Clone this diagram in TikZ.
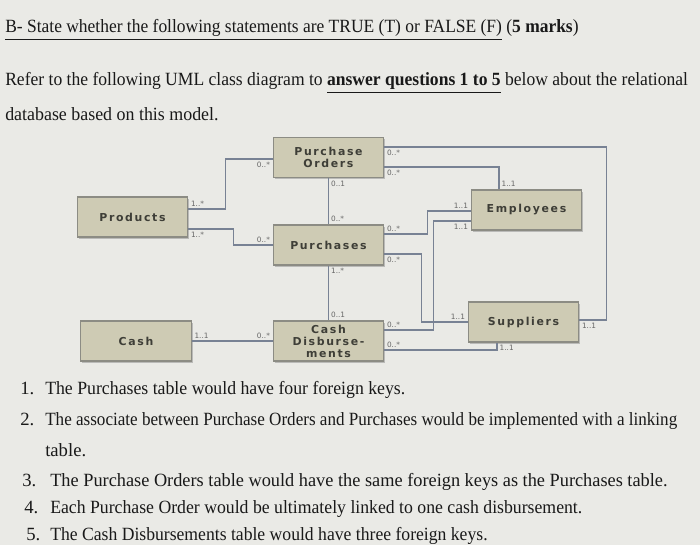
\documentclass[tikz,border=0pt]{standalone}
\usepackage{graphicx}
\usepackage{fontspec}
\setmainfont{Liberation Serif}
\newfontfamily\boxfont[LetterSpace=15]{DejaVu Sans}
\newfontfamily\multfont{DejaVu Sans}
\usetikzlibrary{calc, shadows}
\definecolor{paper}{RGB}{234,234,230}
\definecolor{boxfill}{RGB}{206,203,180}
\definecolor{boxline}{RGB}{140,140,132}
\definecolor{linkcol}{RGB}{120,130,148}
\definecolor{ink}{RGB}{25,25,25}
\definecolor{boxtext}{RGB}{62,62,55}
\newcommand{\fitline}[2]{\resizebox{#1}{\height}{#2}}

\begin{document}
\begin{tikzpicture}[
    x=0.75pt, y=-0.75pt,
    entity/.style={draw=boxline, fill=boxfill, line width=0.8pt, minimum width=83pt, minimum height=30pt, inner sep=1pt, align=center, font=\boxfont\bfseries\fontsize{8.2}{9}\selectfont, text=boxtext, drop shadow={shadow xshift=1.2pt, shadow yshift=-1.2pt, fill=black!45, opacity=0.5}},
    link/.style={draw=linkcol, line width=1pt},
    mult/.style={font=\multfont\fontsize{5.5}{6}\selectfont, text=black!60, inner sep=1.5pt},
    txt/.style={anchor=base west, inner sep=0pt, text=ink, font=\fontsize{14}{16}\selectfont}
]
\fill[paper] (0,0) rectangle (700,545);
\useasboundingbox (0,0) rectangle (700,545);

% Enunciado
\node[txt] (title) at (5,33) {\fitline{430pt}{\underline{B- State whether the following statements are TRUE (T) or FALSE (F)}\ (\textbf{5 marks})}};
\node[txt] (intro) at (5,86) {\fitline{512pt}{Refer to the following UML class diagram to \textbf{\underline{answer questions 1 to 5}} below about the relational}};
\node[txt] (intro2) at (5,121) {\fitline{160pt}{database based on this model.}};

% Tabelas
\node[entity] (po) at (328.5,157.5) {Purchase\\Orders};
\node[entity] (purch) at (328.5,245) {Purchases};
\node[entity] (cd) at (328.5,341) {Cash\\Disburse-\\ments};
\node[entity] (prod) at (132.5,217) {Products};
\node[entity] (cash) at (136,341) {Cash};
\node[entity] (emp) at (526.5,210) {Employees};
\node[entity] (sup) at (523.5,322) {Suppliers};

% Ligacoes
\draw[link] ($(prod.east)+(0,-8)$) node[mult, above right] {1..*} -- ++(37,0) |- ($(po.west)+(0,1.5)$) node[mult, below left] {0..*};
\draw[link] ($(prod.east)+(0,12)$) node[mult, below right] {1..*} -- ++(45,0) |- (purch.west) node[mult, above left] {0..*};
\draw[link] (po.south) node[mult, below right] {0..1} -- (purch.north) node[mult, above right] {0..*};
\draw[link] (purch.south) node[mult, below right] {1..*} -- (cd.north) node[mult, above right] {0..1};
\draw[link] (cash.east) node[mult, above right] {1..1} -- (cd.west) node[mult, above left] {0..*};
\draw[link] ($(po.east)+(0,-10.5)$) node[mult, below right] {0..*} -- ++(222,0) |- ($(sup.east)+(0,-2)$) node[mult, below right] {1..1};
\draw[link] ($(po.east)+(0,9.5)$) node[mult, below right] {0..*} -| ($(emp.north)+(-27.5,0)$) node[mult, above right] {1..1};
\draw[link] ($(purch.east)+(0,-11)$) node[mult, above right] {0..*} -- ++(43,0) |- ($(emp.west)+(0,1)$) node[mult, above left] {1..1};
\draw[link] ($(purch.east)+(0,9)$) node[mult, below right] {0..*} -- ++(37,0) |- (sup.west) node[mult, above left] {1..1};
\draw[link] ($(cd.east)+(0,-11)$) node[mult, above right] {0..*} -- ++(49,0) |- ($(emp.west)+(0,11)$) node[mult, below left] {1..1};
\draw[link] ($(cd.east)+(0,9)$) node[mult, above right] {0..*} -| ($(sup.south)+(-26.5,0)$) node[mult, below right] {1..1};

% Perguntas
\node[txt] (n1) at (20,394) {1.};
\node[txt] (q1) at (45,394) {\fitline{270pt}{The Purchases table would have four foreign keys.}};
\node[txt] (n2) at (20,425) {2.};
\node[txt] (q2) at (45,425) {\fitline{474pt}{The associate between Purchase Orders and Purchases would be implemented with a linking}};
\node[txt] (q2b) at (45,456) {table.};
\node[txt] (n3) at (22,486) {3.};
\node[txt] (q3) at (50,486) {\fitline{463pt}{The Purchase Orders table would have the same foreign keys as the Purchases table.}};
\node[txt] (n4) at (24,513) {4.};
\node[txt] (q4) at (50,513) {\fitline{399pt}{Each Purchase Order would be ultimately linked to one cash disbursement.}};
\node[txt] (n5) at (26,540) {5.};
\node[txt] (q5) at (50,540) {\fitline{328pt}{The Cash Disbursements table would have three foreign keys.}};

\end{tikzpicture}
\end{document}
